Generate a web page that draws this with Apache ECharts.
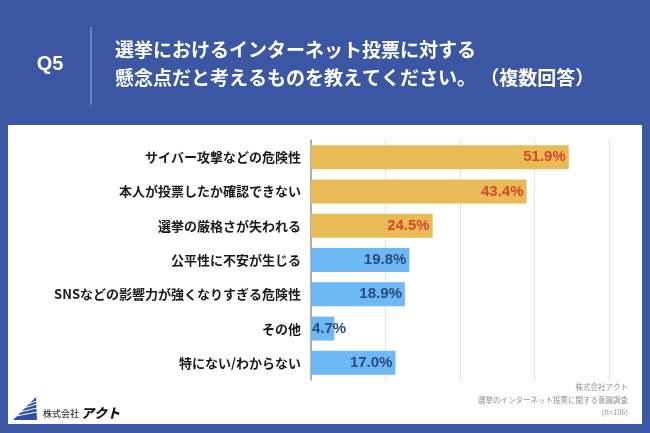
<!DOCTYPE html>
<html><head><meta charset="utf-8">
<script src="https://cdn.jsdelivr.net/npm/echarts@6/dist/echarts.min.js"></script>
<style>html,body{margin:0;padding:0;background:#3B56A3}#c{width:650px;height:433px}</style>
</head><body><div id="c"></div>
<script>
const categories = ['サイバー攻撃などの危険性','本人が投票したか確認できない','選挙の厳格さが失われる','公平性に不安が生じる','SNSなどの影響力が強くなりすぎる危険性','その他','特にない/わからない'];
const values = [51.9, 43.4, 24.5, 19.8, 18.9, 4.7, 17.0];
const highlighted = [true, true, true, false, false, false, false];
const titleLines = ['選挙におけるインターネット投票に対する','懸念点だと考えるものを教えてください。 （複数回答）'];
const footerLines = ['株式会社アクト','選挙のインターネット投票に関する意識調査','(n=106)'];

const FONT = '"Noto Sans CJK JP", "Noto Sans", sans-serif';
const chart = echarts.init(document.getElementById('c'), null, {renderer:'canvas'});

const data = values.map((v,i)=>{
  const small = v < 8;
  return {
    value: v,
    itemStyle: {color: highlighted[i] ? '#E9BB56' : '#6DB9F5'},
    label: {color: highlighted[i] ? '#D8472C' : '#2B4A7E', position: small ? 'insideLeft' : 'insideRight', distance: small ? 1 : 3}
  };
});

chart.setOption({
  backgroundColor: '#3B56A3',
  animation: false,
  graphic: [
    {type:'rect', shape:{x:8,y:125,width:634,height:299}, style:{fill:'#ffffff'}, z:-10},
    {type:'text', x:50, y:64, style:{text:'Q5', fill:'#fff', font:'bold 20px "Liberation Sans", Arial, sans-serif', align:'center', verticalAlign:'middle'}},
    {type:'line', shape:{x1:91,y1:27,x2:91,y2:105}, style:{stroke:'rgba(255,255,255,0.55)', lineWidth:1}},
    {type:'text', x:115, y:50, style:{text:titleLines[0], fill:'#fff', font:'bold 19px '+FONT, verticalAlign:'middle'}},
    {type:'text', x:115, y:78, style:{text:titleLines[1], fill:'#fff', font:'bold 19px '+FONT, verticalAlign:'middle'}},
    {type:'text', x:628, y:387, style:{text:footerLines[0], fill:'#8f8f8f', font:'7.5px '+FONT, align:'right', verticalAlign:'middle'}},
    {type:'text', x:628, y:400, style:{text:footerLines[1], fill:'#8f8f8f', font:'7.5px '+FONT, align:'right', verticalAlign:'middle'}},
    {type:'text', x:628, y:412, style:{text:footerLines[2], fill:'#8f8f8f', font:'7.5px '+FONT, align:'right', verticalAlign:'middle'}},
    // logo
    {type:'polygon', shape:{points:[[13,420],[36,397],[37,420]]}, style:{fill:'#2F4FA0'}},
    {type:'line', shape:{x1:16,y1:416,x2:37,y2:412}, style:{stroke:'#fff', lineWidth:1}},
    {type:'line', shape:{x1:20,y1:412,x2:37,y2:408}, style:{stroke:'#fff', lineWidth:1}},
    {type:'line', shape:{x1:24,y1:408,x2:37,y2:404}, style:{stroke:'#fff', lineWidth:1}},
    {type:'line', shape:{x1:28,y1:404,x2:37,y2:401}, style:{stroke:'#fff', lineWidth:1}},
    {type:'text', x:43, y:414, style:{text:'株式会社', fill:'#333', font:'500 9px '+FONT, verticalAlign:'middle'}},
    {type:'text', x:81, y:413, style:{text:'アクト', fill:'#111', font:'italic 900 13px '+FONT, verticalAlign:'middle'}}
  ],
  grid: {left:311, right:41, top:140, bottom:53, containLabel:false},
  xAxis: {
    type:'value', min:0, max:60, interval:15,
    axisLabel:{show:false}, axisLine:{show:false}, axisTick:{show:false},
    splitLine:{show:true, lineStyle:{color:'#e2e2e2', width:1}}
  },
  yAxis: {
    type:'category', data:categories, inverse:true,
    axisLine:{show:true, lineStyle:{color:'#9a9a9a', width:1.5}},
    axisTick:{show:false},
    axisLabel:{margin:10, color:'#1a1a1a', fontWeight:'bold', fontSize:13, fontFamily:FONT}
  },
  series: [{
    type:'bar', data:data, barWidth:'70%',
    label:{show:true, formatter:p=>p.value.toFixed(1)+'%',
      fontSize:15, fontWeight:'bold', fontFamily:'"Liberation Sans", Arial, sans-serif'}
  }]
});
</script></body></html>
